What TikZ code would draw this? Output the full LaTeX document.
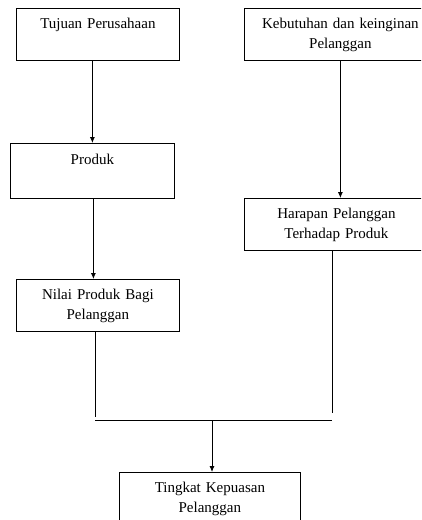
\documentclass[tikz,border=0pt]{standalone}
\usepackage{fontspec}
\setmainfont{Liberation Serif}
\usetikzlibrary{arrows.meta}

\tikzset{
    kotak/.style={draw, line width=0.8pt, anchor=north west, align=center,
        inner xsep=0pt, inner ysep=6pt, font=\fontsize{15}{20}\selectfont},
    panah/.style={-{Latex[length=6pt,width=5pt]}, line width=0.8pt},
    garis/.style={line width=0.8pt}
}

\begin{document}
\begin{tikzpicture}[x=1pt,y=-1pt]
    % Fix the frame
    \useasboundingbox (0,0) rectangle (421,520);
    \clip (0,0) rectangle (421,520);
    % Draw the boxes
    \node[kotak, text width=163pt] (tujuan) at (16,8) {\strut Tujuan Perusahaan\\\strut};
    \node[kotak, text width=192pt] (kebutuhan) at (244,8) {\strut Kebutuhan dan keinginan\\\strut Pelanggan};
    \node[kotak, text width=164pt, inner ysep=7.5pt] (produk) at (10,143) {\strut Produk\\\strut};
    \node[kotak, text width=184pt] (harapan) at (244,198) {\strut Harapan Pelanggan\\\strut Terhadap Produk};
    \node[kotak, text width=163pt] (nilai) at (16,279) {\strut Nilai Produk Bagi\\\strut Pelanggan};
    \node[kotak, text width=181pt] (tingkat) at (119,472) {\strut Tingkat Kepuasan\\\strut Pelanggan\\\strut};
    % Draw the arrows
    \draw[panah] (tujuan.south -| produk.north) -- (produk.north);
    \draw[panah] (produk.south) ++(1,0) coordinate (p_1) -- (p_1 |- nilai.north);
    \draw[panah] (kebutuhan.south) -- (kebutuhan.south |- harapan.north);
    % Draw the joining lines
    \coordinate (kiri) at (95,417);
    \coordinate (kanan) at (332,413);
    \coordinate (gabung) at (212,420);
    \draw[garis] (kiri |- nilai.south) -- (kiri);
    \draw[garis] (kanan |- harapan.south) -- (kanan);
    \draw[garis] (kiri |- gabung) -- (kanan |- gabung);
    \draw[panah] (gabung) -- (gabung |- tingkat.north);
\end{tikzpicture}
\end{document}
